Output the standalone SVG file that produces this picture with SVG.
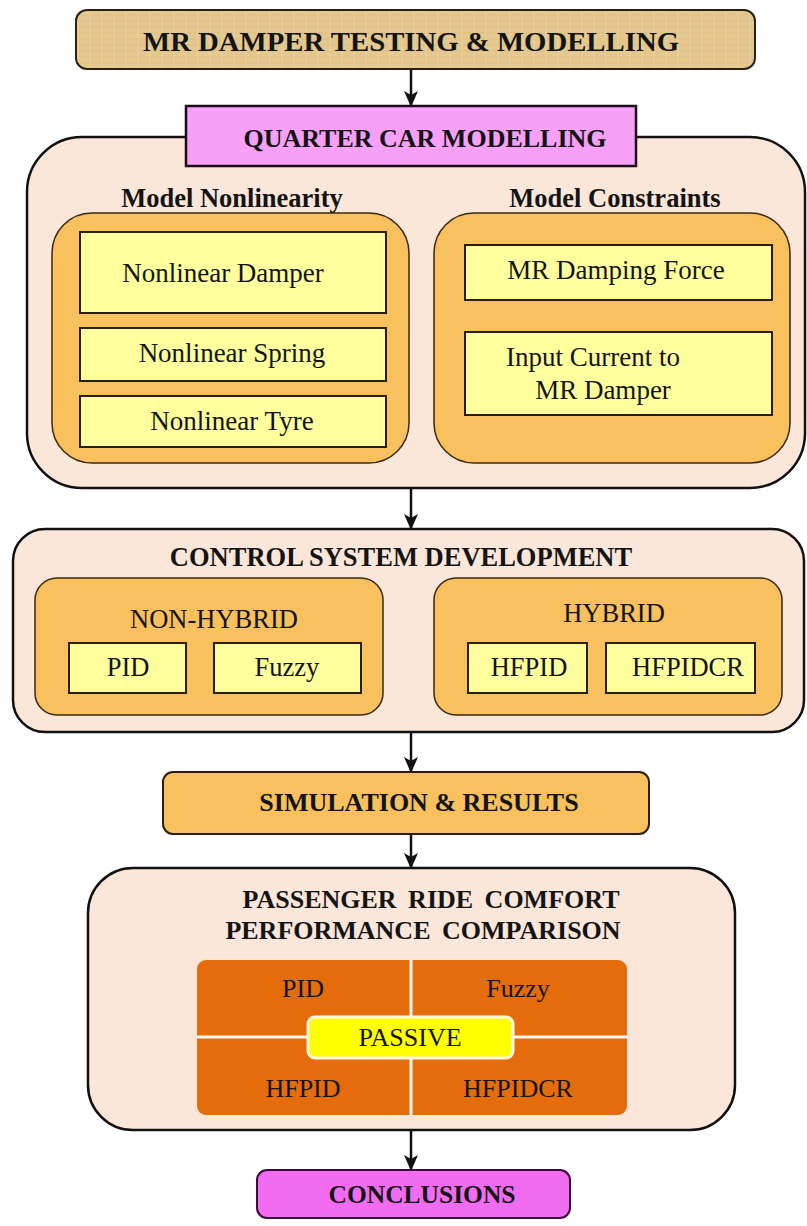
<svg xmlns="http://www.w3.org/2000/svg" width="807" height="1226" viewBox="0 0 807 1226">
<defs>
<pattern id="papyrus" width="24" height="12" patternUnits="userSpaceOnUse">
<rect width="24" height="12" fill="#e4c890"/>
<path d="M0 3h24M0 9h24" stroke="#d9b978" stroke-width="1" opacity="0.6"/>
<path d="M6 0v12M18 0v12" stroke="#efd9a6" stroke-width="1" opacity="0.6"/>
</pattern>
<marker id="arr" viewBox="0 0 16 14" refX="15" refY="7" markerWidth="16" markerHeight="14" markerUnits="userSpaceOnUse" orient="auto">
<path d="M0,0 L16,7 L0,14 L4,7 z" fill="#111"/>
</marker>
<style>
.t{font-family:"Liberation Serif","Times New Roman",serif;fill:#141414;text-anchor:middle}
.b{font-weight:bold}
.big{fill:#fbe6da;stroke:#111;stroke-width:2.5}
.org{fill:#f9c05e;stroke:#3a2810;stroke-width:1.5}
.yel{fill:#ffff9e;stroke:#2a1e0a;stroke-width:2}
.grid{fill:#e46c0a}
.conn{stroke:#111;stroke-width:2.5;fill:none}
</style>
</defs>

<g id="connectors">
<line class="conn" x1="411" y1="69" x2="411" y2="106" marker-end="url(#arr)"/>
<line class="conn" x1="411" y1="488" x2="411" y2="529" marker-end="url(#arr)"/>
<line class="conn" x1="411" y1="732" x2="411" y2="772" marker-end="url(#arr)"/>
<line class="conn" x1="411" y1="834" x2="411" y2="868" marker-end="url(#arr)"/>
<line class="conn" x1="411" y1="1130" x2="411" y2="1170" marker-end="url(#arr)"/>
</g>

<g id="mr-damper-testing">
<rect x="76" y="10" width="679" height="59" rx="11" fill="url(#papyrus)" stroke="#2a2010" stroke-width="2"/>
<text class="t b" x="411" y="51" font-size="28" textLength="536" lengthAdjust="spacingAndGlyphs">MR DAMPER TESTING &amp; MODELLING</text>
</g>

<g id="quarter-car-group">
<rect class="big" x="27" y="137" width="778" height="351" rx="55"/>
</g>

<g id="quarter-car-modelling">
<rect x="186" y="106" width="450" height="60" fill="#f7a0f7" stroke="#1a0a1a" stroke-width="2.5"/>
<text class="t b" x="425" y="147" font-size="26" fill="#2a0a3a">QUARTER CAR MODELLING</text>
</g>

<g id="model-nonlinearity">
<text class="t b" x="232" y="207" font-size="26.5">Model Nonlinearity</text>
<rect class="org" x="52" y="213" width="357" height="250" rx="40"/>
</g>
<g id="nonlinear-damper">
<rect class="yel" x="80" y="232" width="306" height="81"/>
<text class="t" x="223" y="282" font-size="27">Nonlinear Damper</text>
</g>
<g id="nonlinear-spring">
<rect class="yel" x="80" y="328" width="306" height="53"/>
<text class="t" x="232" y="362" font-size="27">Nonlinear Spring</text>
</g>
<g id="nonlinear-tyre">
<rect class="yel" x="80" y="396" width="306" height="51"/>
<text class="t" x="232" y="430" font-size="27">Nonlinear Tyre</text>
</g>

<g id="model-constraints">
<text class="t b" x="615" y="207" font-size="26.5">Model Constraints</text>
<rect class="org" x="434" y="213" width="356" height="250" rx="40"/>
</g>
<g id="mr-damping-force">
<rect class="yel" x="465" y="245" width="307" height="55"/>
<text class="t" x="616" y="279" font-size="27">MR Damping Force</text>
</g>
<g id="input-current">
<rect class="yel" x="465" y="332" width="307" height="83"/>
<text class="t" x="593" y="366" font-size="27">Input Current to</text>
<text class="t" x="603" y="399" font-size="27">MR Damper</text>
</g>

<g id="control-system-development">
<rect class="big" x="13" y="529" width="791" height="203" rx="32"/>
<text class="t b" x="401" y="566" font-size="26.5">CONTROL SYSTEM DEVELOPMENT</text>
</g>
<g id="non-hybrid">
<rect class="org" x="35" y="578" width="348" height="137" rx="22"/>
<text class="t" x="214" y="628" font-size="26.5">NON-HYBRID</text>
</g>
<g id="pid">
<rect class="yel" x="69" y="643" width="117" height="50"/>
<text class="t" x="128" y="676" font-size="26.5">PID</text>
</g>
<g id="fuzzy">
<rect class="yel" x="214" y="643" width="147" height="50"/>
<text class="t" x="287" y="676" font-size="26.5">Fuzzy</text>
</g>
<g id="hybrid">
<rect class="org" x="434" y="578" width="348" height="137" rx="22"/>
<text class="t" x="614" y="622" font-size="26.5">HYBRID</text>
</g>
<g id="hfpid">
<rect class="yel" x="468" y="643" width="119" height="50"/>
<text class="t" x="529" y="676" font-size="26.5">HFPID</text>
</g>
<g id="hfpidcr">
<rect class="yel" x="606" y="643" width="149" height="50"/>
<text class="t" x="688" y="676" font-size="26.5">HFPIDCR</text>
</g>

<g id="simulation-results">
<rect x="163" y="772" width="486" height="62" rx="10" fill="#f9c05e" stroke="#2a1e0a" stroke-width="2"/>
<text class="t b" x="419" y="811" font-size="26">SIMULATION &amp; RESULTS</text>
</g>

<g id="passenger-ride-comfort">
<rect class="big" x="88" y="868" width="647" height="262" rx="45"/>
<text class="t b" x="431" y="908" font-size="26" word-spacing="5">PASSENGER RIDE COMFORT</text>
<text class="t b" x="423" y="939" font-size="26" word-spacing="5">PERFORMANCE COMPARISON</text>
<rect class="grid" x="197" y="960" width="430" height="155" rx="9"/>
<line x1="411" y1="960" x2="411" y2="1115" stroke="#fff6ea" stroke-width="3"/>
<line x1="197" y1="1037" x2="627" y2="1037" stroke="#fff6ea" stroke-width="3"/>
</g>
<g id="cmp-pid"><text class="t" x="303" y="997" font-size="26" fill="#2a0c00">PID</text></g>
<g id="cmp-fuzzy"><text class="t" x="518" y="997" font-size="26" fill="#2a0c00">Fuzzy</text></g>
<g id="cmp-hfpid"><text class="t" x="303" y="1097" font-size="26" fill="#2a0c00">HFPID</text></g>
<g id="cmp-hfpidcr"><text class="t" x="518" y="1097" font-size="26" fill="#2a0c00">HFPIDCR</text></g>
<g id="passive">
<rect x="308" y="1017" width="205" height="41" rx="7" fill="#ffff00" stroke="#fff8e0" stroke-width="3"/>
<text class="t" x="410" y="1046" font-size="26" fill="#2a1a00">PASSIVE</text>
</g>

<g id="conclusions">
<rect x="257" y="1170" width="313" height="48" rx="10" fill="#f26cf2" stroke="#3a0a3a" stroke-width="2"/>
<text class="t b" x="422" y="1203" font-size="25.5" fill="#2a0a3a">CONCLUSIONS</text>
</g>
</svg>
